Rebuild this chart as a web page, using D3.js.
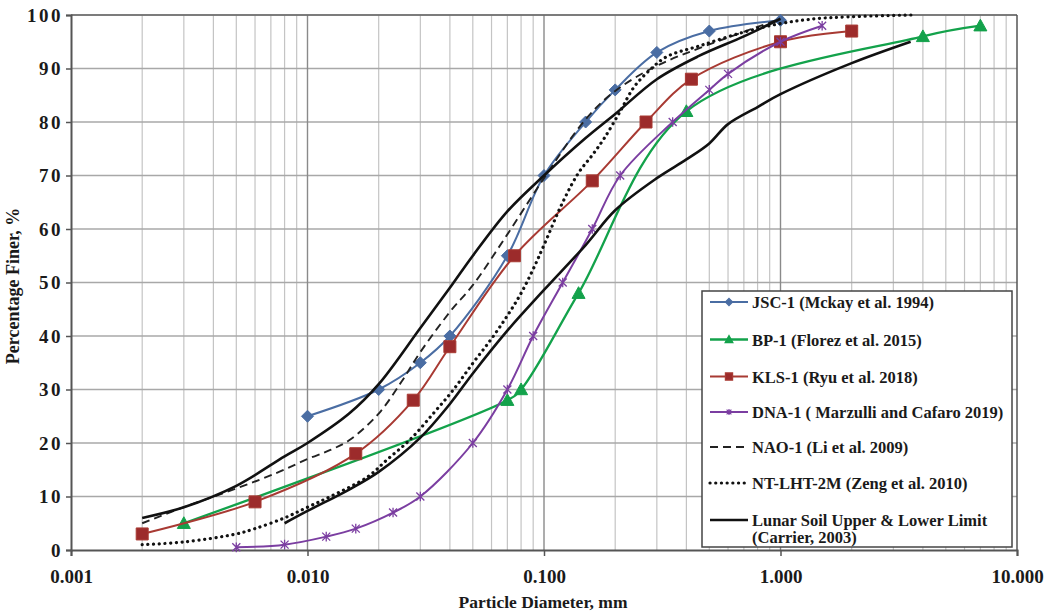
<!DOCTYPE html>
<html><head><meta charset="utf-8">
<script src="https://cdn.jsdelivr.net/npm/d3@7"></script>
<style>
body{margin:0;background:#fff;}
text{font-family:"Liberation Serif","Times New Roman",serif;font-weight:bold;fill:#1a1a1a;}
</style></head><body>
<svg id="c" width="1044" height="614"></svg>
<script>
// ---- data ----
const xTicks = [0.001, 0.01, 0.1, 1, 10];
const xTickLabels = ["0.001", "0.010", "0.100", "1.000", "10.000"];
const yTicks = [0, 10, 20, 30, 40, 50, 60, 70, 80, 90, 100];

const jscX = [0.01, 0.02, 0.03, 0.04, 0.07, 0.1, 0.15, 0.2, 0.3, 0.5, 1.0];
const jscY = [25, 30, 35, 40, 55, 70, 80, 86, 93, 97, 99];

const bpX = [0.003, 0.07, 0.08, 0.14, 0.4, 4, 7];
const bpY = [5, 28, 30, 48, 82, 96, 98];

const klsX = [0.002, 0.006, 0.016, 0.028, 0.04, 0.075, 0.16, 0.27, 0.42, 1.0, 2.0];
const klsY = [3, 9, 18, 28, 38, 55, 69, 80, 88, 95, 97];

const dnaX = [0.005, 0.008, 0.012, 0.016, 0.023, 0.03, 0.05, 0.07, 0.09, 0.12, 0.16, 0.21, 0.35, 0.5, 0.6, 1.0, 1.5];
const dnaY = [0.5, 1, 2.5, 4, 7, 10, 20, 30, 40, 50, 60, 70, 80, 86, 89, 95, 98];

const naoX = [0.002, 0.003, 0.005, 0.0075, 0.01, 0.0125, 0.015, 0.02, 0.025, 0.03, 0.04, 0.05, 0.07, 0.1, 0.15, 0.2, 0.3, 0.5, 1.0];
const naoY = [5, 8, 11.5, 14.5, 17, 18.7, 20.5, 25.5, 31.5, 37, 44.5, 49.5, 59, 69.5, 80.5, 85.8, 90.5, 94.5, 99.3];

const ntX = [0.002, 0.003, 0.005, 0.006, 0.008, 0.01, 0.0125, 0.018, 0.0216, 0.0271, 0.034, 0.0413, 0.05, 0.06, 0.07, 0.08, 0.09, 0.1, 0.12, 0.14, 0.16, 0.18, 0.21, 0.24, 0.28, 0.33, 0.46, 0.7, 1.0, 1.5, 3.6];
const ntY = [1, 1.5, 3, 4, 6, 8, 10, 13.7, 16.8, 20.6, 25.5, 29.9, 34.9, 39.5, 43.8, 48, 52.5, 57, 65, 70.5, 73.8, 77, 82, 86.5, 89.7, 92.2, 94.3, 96.8, 98.4, 99.4, 100];

const upX = [0.002, 0.003, 0.005, 0.008, 0.01, 0.015, 0.02, 0.03, 0.04, 0.05, 0.07, 0.1, 0.15, 0.2, 0.3, 0.45, 0.7, 1.0];
const upY = [6, 8, 12, 17.5, 20, 25.5, 31, 41.5, 49, 55, 63.3, 70, 77, 81.5, 88, 92.3, 96, 99.3];

const lowX = [0.008, 0.01, 0.015, 0.02, 0.03, 0.04, 0.05, 0.07, 0.1, 0.15, 0.2, 0.3, 0.4, 0.5, 0.6, 0.8, 1.0, 2.0, 3.55];
const lowY = [5, 7.3, 11.3, 14.6, 21, 27.3, 33, 41, 48.6, 57, 63.5, 69.5, 73, 76, 79.6, 82.8, 85.2, 91, 95];

const legendLabels = ["JSC-1 (Mckay et al. 1994)", "BP-1 (Florez et al. 2015)", "KLS-1 (Ryu et al. 2018)",
  "DNA-1 ( Marzulli and Cafaro 2019)", "NAO-1 (Li et al. 2009)", "NT-LHT-2M (Zeng et al. 2010)",
  "Lunar Soil Upper & Lower Limit", "(Carrier, 2003)"];

// ---- chart ----
const svg = d3.select("#c");
const x = d3.scaleLog().domain([0.001, 10]).range([71, 1017]);
const y = d3.scaleLinear().domain([0, 100]).range([550, 15]);

const zip = (a, b) => a.map((v, i) => [v, b[i]]);
const line = d3.line().x(d => x(d[0])).y(d => y(d[1])).curve(d3.curveCatmullRom.alpha(0.5));

// grid
const minor = [];
[0.001, 0.01, 0.1, 1].forEach(d => { for (let k = 2; k <= 9; k++) minor.push(d * k); });
const g = svg.append("g");
g.selectAll(".mn").data(minor).join("line")
  .attr("x1", d => x(d)).attr("x2", d => x(d)).attr("y1", y(0)).attr("y2", y(100))
  .attr("stroke", "#c4c4c4").attr("stroke-width", 1.2);
g.selectAll(".hy").data(yTicks.slice(1)).join("line")
  .attr("x1", x(0.001)).attr("x2", x(10)).attr("y1", d => y(d)).attr("y2", d => y(d))
  .attr("stroke", "#a8a8a8").attr("stroke-width", 1.3);
g.selectAll(".mj").data(xTicks.slice(1, 4)).join("line")
  .attr("x1", d => x(d)).attr("x2", d => x(d)).attr("y1", y(0)).attr("y2", y(100))
  .attr("stroke", "#8a8a8a").attr("stroke-width", 1.4);
// frame top/right
svg.append("line").attr("x1", x(0.001)).attr("x2", x(10)).attr("y1", y(100)).attr("y2", y(100)).attr("stroke", "#666").attr("stroke-width", 1.5);
svg.append("line").attr("x1", x(10)).attr("x2", x(10)).attr("y1", y(100)).attr("y2", y(0)).attr("stroke", "#555").attr("stroke-width", 1.5);

// axes
const xAxis = d3.axisBottom(x).tickValues(xTicks).tickFormat((d, i) => xTickLabels[i]).tickSize(6).tickPadding(14);
const gx = svg.append("g").attr("transform", `translate(0,${y(0)})`).call(xAxis);
gx.select(".domain").attr("stroke", "#555").attr("stroke-width", 2);
gx.selectAll(".tick line").attr("stroke", "#555").attr("stroke-width", 1.5);
gx.selectAll(".tick text").attr("font-size", 19).attr("font-family", "Liberation Serif, Times New Roman, serif").attr("font-weight", "bold").attr("fill", "#1a1a1a");

const yAxis = d3.axisLeft(y).tickValues(yTicks).tickSize(5).tickPadding(5);
const gy = svg.append("g").attr("transform", `translate(${x(0.001)},0)`).call(yAxis);
gy.select(".domain").attr("stroke", "#555").attr("stroke-width", 2);
gy.selectAll(".tick line").attr("stroke", "#555").attr("stroke-width", 1.5);
gy.selectAll(".tick text").attr("font-size", 19).attr("letter-spacing", "2.5px").attr("dx", "2px")
  .attr("font-family", "Liberation Serif, Times New Roman, serif").attr("font-weight", "bold").attr("fill", "#1a1a1a");

// axis titles
svg.append("text").attr("x", 543).attr("y", 608).attr("text-anchor", "middle").attr("font-size", 17.5).text("Particle Diameter, mm");
svg.append("text").attr("transform", "translate(19,286) rotate(-90)").attr("text-anchor", "middle").attr("font-size", 18).text("Percentage Finer, %");

// markers
const diamond = s => `M0,${-s}L${s},0L0,${s}L${-s},0Z`;
const tri = s => `M0,${-s}L${s},${s * 0.8}L${-s},${s * 0.8}Z`;
const sq = s => `M${-s},${-s}H${s}V${s}H${-s}Z`;
const star = s => `M${-s},${-s}L${s},${s}M${-s},${s}L${s},${-s}M0,${-s * 1.2}V${s * 1.2}`;

const series = [
  {xs: jscX, ys: jscY, color: "#4a6da3", w: 2, mk: diamond, ms: 6, fill: true},
  {xs: bpX, ys: bpY, color: "#13a24b", w: 2.3, mk: tri, ms: 6.5, fill: true},
  {xs: klsX, ys: klsY, color: "#a83a33", w: 2, mk: sq, ms: 6, fill: true, mfill: "#9c2b2b"},
  {xs: dnaX, ys: dnaY, color: "#7b3ea1", w: 2, mk: star, ms: 4, fill: false},
  {xs: naoX, ys: naoY, color: "#222", w: 1.9, dash: "8,5"},
  {xs: ntX, ys: ntY, color: "#111", w: 3.2, dash: "0.1,5.6", cap: "round"},
  {xs: upX, ys: upY, color: "#111", w: 2.6},
  {xs: lowX, ys: lowY, color: "#111", w: 2.6}
];

const pg = svg.append("g");
series.forEach(s => {
  pg.append("path").attr("d", line(zip(s.xs, s.ys))).attr("fill", "none")
    .attr("stroke", s.color).attr("stroke-width", s.w)
    .attr("stroke-dasharray", s.dash || null).attr("stroke-linecap", s.cap || "butt");
  if (s.mk) {
    pg.selectAll(null).data(zip(s.xs, s.ys)).join("path")
      .attr("transform", d => `translate(${x(d[0])},${y(d[1])})`)
      .attr("d", s.mk(s.ms))
      .attr("fill", s.fill ? (s.mfill || s.color) : "none")
      .attr("stroke", s.color).attr("stroke-width", s.fill ? 1 : 1.3);
  }
});

// legend
const lg = svg.append("g");
lg.append("rect").attr("x", 702).attr("y", 291).attr("width", 310).attr("height", 256)
  .attr("fill", "#fff").attr("stroke", "#444").attr("stroke-width", 1.5);
const ly = [302, 339.5, 376.5, 412, 447, 483, 520];
series.slice(0, 7).forEach((s, i) => {
  const yy = ly[i];
  lg.append("line").attr("x1", 710).attr("x2", 748).attr("y1", yy).attr("y2", yy)
    .attr("stroke", s.color).attr("stroke-width", s.w)
    .attr("stroke-dasharray", s.dash || null).attr("stroke-linecap", s.cap || "butt");
  if (s.mk) {
    lg.append("path").attr("transform", `translate(729,${yy})`).attr("d", s.mk(s.ms * 0.6))
      .attr("fill", s.fill ? (s.mfill || s.color) : "none").attr("stroke", s.color).attr("stroke-width", 1.2);
  }
  lg.append("text").attr("x", 752).attr("y", yy + 6).attr("font-size", 16.5).text(legendLabels[i]);
});
lg.append("text").attr("x", 752).attr("y", 543).attr("font-size", 16.5).text(legendLabels[7]);
</script>
</body></html>
